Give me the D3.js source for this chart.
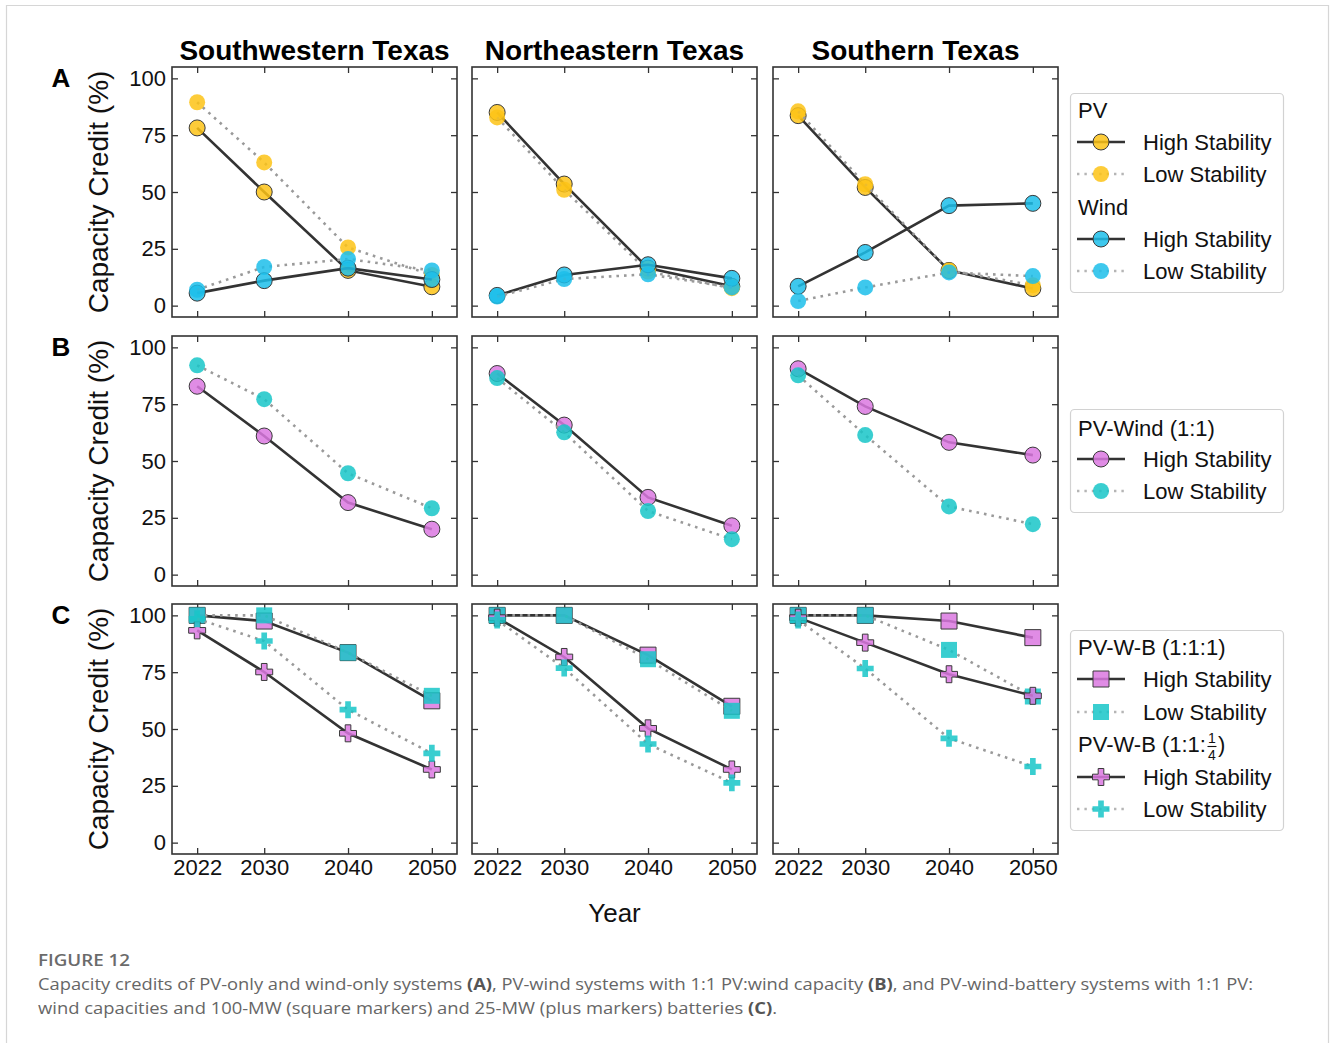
<!DOCTYPE html>
<html>
<head>
<meta charset="utf-8">
<script src="https://cdn.jsdelivr.net/npm/d3@7"></script>
<style>
  body { margin: 0; background: #fff; }
  svg { display: block; }
</style>
</head>
<body>
<svg id="fig" width="1330" height="1043"></svg>
<script>
// ---- data ----
const years = [2022, 2030, 2040, 2050];
const regions = ["Southwestern Texas", "Northeastern Texas", "Southern Texas"];
const yTicks = [0, 25, 50, 75, 100];
const rowLetters = ["A", "B", "C"];

// Row A: single-technology capacity credits (%), one array per region
const pvHigh   = [[78.2, 50.0, 15.5, 8.3], [85.0, 53.5, 16.5, 8.5], [83.6, 52.0, 15.5, 7.5]];
const pvLow    = [[89.5, 63.0, 25.6, 13.5], [82.8, 51.0, 15.0, 7.7], [85.5, 53.4, 15.5, 9.0]];
const windHigh = [[5.5, 11.0, 16.5, 11.5], [4.5, 13.5, 18.0, 12.0], [8.5, 23.4, 44.0, 45.0]];
const windLow  = [[7.0, 17.0, 20.5, 15.5], [4.0, 11.7, 13.8, 8.0], [2.0, 8.0, 14.6, 13.0]];

// Row B: PV-wind (1:1)
const pvWindHigh = [[82.9, 61.0, 31.7, 20.0], [88.5, 65.8, 34.0, 21.5], [90.6, 74.0, 58.2, 52.6]];
const pvWindLow  = [[92.1, 77.2, 44.6, 29.2], [86.5, 62.6, 28.0, 15.6], [87.7, 61.4, 30.0, 22.2]];

// Row C: PV-wind-battery, 100-MW (1:1:1) and 25-MW (1:1:1/4) batteries
const bat100High = [[100, 97.5, 83.6, 62.4], [100, 100, 82.5, 60.0], [100, 100, 97.5, 90.2]];
const bat100Low  = [[100, 100, 83.6, 64.6], [100, 100, 80.7, 58.0], [100, 100, 84.8, 64.3]];
const bat25High  = [[93.4, 75.1, 48.1, 32.2], [99.0, 81.7, 50.3, 32.2], [99.0, 88.0, 74.1, 64.6]];
const bat25Low   = [[98.5, 88.7, 58.5, 39.3], [98.0, 76.8, 43.4, 26.3], [98.0, 76.6, 45.9, 33.5]];

// ---- styling ----
const C_PV = "#FDC316", C_WIND = "#1CBEEA", C_MAG = "#DA78E0", C_TEAL = "#18C6C8";
const FONT = "'Liberation Sans', Arial, Helvetica, sans-serif";

const rows = [
  { series: [
      { data: pvHigh, color: C_PV, high: true, shape: "circle" },
      { data: pvLow, color: C_PV, high: false, shape: "circle" },
      { data: windHigh, color: C_WIND, high: true, shape: "circle" },
      { data: windLow, color: C_WIND, high: false, shape: "circle" } ] },
  { series: [
      { data: pvWindHigh, color: C_MAG, high: true, shape: "circle" },
      { data: pvWindLow, color: C_TEAL, high: false, shape: "circle" } ] },
  { series: [
      { data: bat100High, color: C_MAG, high: true, shape: "square" },
      { data: bat100Low, color: C_TEAL, high: false, shape: "square" },
      { data: bat25High, color: C_MAG, high: true, shape: "cross" },
      { data: bat25Low, color: C_TEAL, high: false, shape: "cross" } ] }
];

const svg = d3.select("#fig");
const colLeft = [172, 472, 773];
const rowTop = [67, 336, 604];
const panelW = 285, panelH = 250;

const x = d3.scaleLinear().domain([2019, 2053]).range([0, panelW]);
const y = d3.scaleLinear().domain([-5, 105]).range([panelH, 0]);

const symbolFor = {
  circle: d3.symbol().type(d3.symbolCircle).size(Math.PI * 8 * 8),
  square: d3.symbol().type(d3.symbolSquare).size(16 * 16),
  cross: d3.symbol().type(d3.symbolCross).size(160)
};

function styleLine(sel, high) {
  sel.attr("fill", "none")
     .attr("stroke", high ? "#333" : "#9a9a9a")
     .attr("stroke-width", 2.6)
     .attr("stroke-dasharray", high ? null : "2.6,5");
}
function styleMarker(sel, color, high) {
  sel.attr("fill", color)
     .attr("fill-opacity", 0.85)
     .attr("stroke", high ? "#3a3a3a" : "none")
     .attr("stroke-width", 1);
}

// outer page border
svg.append("path")
  .attr("d", "M6.5,1050 V5.5 H1328.5 V1050")
  .attr("fill", "none").attr("stroke", "#d6d6d6").attr("stroke-width", 1.2);

const line = d3.line().x((d, i) => x(years[i])).y(d => y(d));

rows.forEach((row, r) => {
  regions.forEach((region, c) => {
    const g = svg.append("g").attr("transform", `translate(${colLeft[c]},${rowTop[r]})`);

    // axes with inward ticks on all four sides
    const left = g.append("g").call(d3.axisLeft(y).tickValues(yTicks).tickSize(-6).tickPadding(6)
      .tickFormat(c === 0 ? d3.format("d") : ""));
    const right = g.append("g").attr("transform", `translate(${panelW},0)`)
      .call(d3.axisRight(y).tickValues(yTicks).tickSize(-6).tickFormat(""));
    const top = g.append("g").call(d3.axisTop(x).tickValues(years).tickSize(-6).tickFormat(""));
    const bottom = g.append("g").attr("transform", `translate(0,${panelH})`)
      .call(d3.axisBottom(x).tickValues(years).tickSize(-6).tickPadding(5)
        .tickFormat(r === 2 ? d3.format("d") : ""));
    [left, right, top, bottom].forEach(a => {
      a.select(".domain").remove();
      a.selectAll(".tick line").attr("stroke", "#333").attr("stroke-width", 1.3);
      a.selectAll(".tick text").attr("font-family", FONT).attr("font-size", 22).attr("fill", "#111");
    });

    g.append("rect").attr("width", panelW).attr("height", panelH)
      .attr("fill", "none").attr("stroke", "#333").attr("stroke-width", 1.6);

    row.series.forEach(s => {
      const vals = s.data[c];
      g.append("path").datum(vals).attr("d", line).call(styleLine, s.high);
      g.selectAll(null).data(vals).enter().append("path")
        .attr("d", symbolFor[s.shape])
        .attr("transform", (d, i) => `translate(${x(years[i])},${y(d)})`)
        .call(styleMarker, s.color, s.high);
    });

    if (r === 0) {
      svg.append("text").attr("x", colLeft[c] + panelW / 2).attr("y", 60)
        .attr("text-anchor", "middle").attr("font-family", FONT).attr("font-weight", "bold")
        .attr("font-size", 28).attr("fill", "#000").text(region);
    }
  });

  // row letter and y-axis title
  svg.append("text").attr("x", 61).attr("y", rowTop[r] + 20)
    .attr("text-anchor", "middle").attr("font-family", FONT).attr("font-weight", "bold")
    .attr("font-size", 26).attr("fill", "#000").text(rowLetters[r]);
  svg.append("text")
    .attr("transform", `translate(108,${rowTop[r] + panelH / 2}) rotate(-90)`)
    .attr("text-anchor", "middle").attr("font-family", FONT).attr("font-size", 28)
    .attr("fill", "#111").text("Capacity Credit (%)");
});

// x-axis title
svg.append("text").attr("x", colLeft[1] + panelW / 2).attr("y", 922)
  .attr("text-anchor", "middle").attr("font-family", FONT).attr("font-size", 26)
  .attr("fill", "#111").text("Year");

// ---- legends ----
const LX = 1070, LW = 213;
function legendBox(top, h) {
  svg.append("rect").attr("x", LX + 0.5).attr("y", top + 0.5).attr("width", LW).attr("height", h)
    .attr("rx", 4).attr("fill", "#fff").attr("stroke", "#d2d2d2").attr("stroke-width", 1.2);
}
function legendHeader(cy, label) {
  return svg.append("text").attr("x", 1078).attr("y", cy + 8).attr("font-family", FONT)
    .attr("font-size", 22).attr("fill", "#111").text(label);
}
function legendEntry(cy, color, high, shape, label) {
  svg.append("path").attr("d", `M1077,${cy}H1125`).call(styleLine, high)
    .attr("stroke-width", 2.4).attr("stroke-dasharray", high ? null : "2.4,5")
    .attr("stroke", high ? "#333" : "#b5b5b5");
  svg.append("path").attr("d", symbolFor[shape]).attr("transform", `translate(1101,${cy})`)
    .call(styleMarker, color, high);
  svg.append("text").attr("x", 1143).attr("y", cy + 8).attr("font-family", FONT)
    .attr("font-size", 22).attr("fill", "#111").text(label);
}

legendBox(93, 199);
legendHeader(110, "PV");
legendEntry(142, C_PV, true, "circle", "High Stability");
legendEntry(174, C_PV, false, "circle", "Low Stability");
legendHeader(207, "Wind");
legendEntry(239, C_WIND, true, "circle", "High Stability");
legendEntry(271, C_WIND, false, "circle", "Low Stability");

legendBox(409, 103);
legendHeader(428, "PV-Wind (1:1)");
legendEntry(459, C_MAG, true, "circle", "High Stability");
legendEntry(491, C_TEAL, false, "circle", "Low Stability");

legendBox(630, 200);
legendHeader(647, "PV-W-B (1:1:1)");
legendEntry(679, C_MAG, true, "square", "High Stability");
legendEntry(712, C_TEAL, false, "square", "Low Stability");
const h2 = legendHeader(744, "PV-W-B (1:1:");
const fx = 1078 + h2.node().getComputedTextLength();
svg.append("text").attr("x", fx + 6).attr("y", 743).attr("text-anchor", "middle")
  .attr("font-family", FONT).attr("font-size", 14).attr("fill", "#111").text("1");
svg.append("line").attr("x1", fx + 1.5).attr("x2", fx + 10.5).attr("y1", 746.5).attr("y2", 746.5)
  .attr("stroke", "#111").attr("stroke-width", 1.1);
svg.append("text").attr("x", fx + 6).attr("y", 760).attr("text-anchor", "middle")
  .attr("font-family", FONT).attr("font-size", 14).attr("fill", "#111").text("4");
svg.append("text").attr("x", fx + 12).attr("y", 752).attr("font-family", FONT)
  .attr("font-size", 22).attr("fill", "#111").text(")");
legendEntry(777, C_MAG, true, "cross", "High Stability");
legendEntry(809, C_TEAL, false, "cross", "Low Stability");

// ---- caption ----
const CAP_FONT = "'Open Sans', 'Noto Sans', sans-serif";
svg.append("text").attr("x", 38).attr("y", 966).attr("font-family", CAP_FONT)
  .attr("font-size", 16).attr("font-weight", 600).attr("fill", "#6b6b6b")
  .attr("textLength", 92).attr("lengthAdjust", "spacingAndGlyphs").text("FIGURE 12");

function captionLine(yPos, parts, len) {
  const t = svg.append("text").attr("x", 38).attr("y", yPos).attr("font-family", CAP_FONT)
    .attr("font-size", 16).attr("fill", "#666")
    .attr("textLength", len).attr("lengthAdjust", "spacingAndGlyphs");
  parts.forEach(p => {
    t.append("tspan").attr("font-weight", p.bold ? 700 : 400)
      .attr("fill", p.bold ? "#555" : "#666").text(p.t);
  });
}
captionLine(990, [
  { t: "Capacity credits of PV-only and wind-only systems " }, { t: "(A)", bold: true },
  { t: ", PV-wind systems with 1:1 PV:wind capacity " }, { t: "(B)", bold: true },
  { t: ", and PV-wind-battery systems with 1:1 PV:" }
], 1215);
captionLine(1014, [
  { t: "wind capacities and 100-MW (square markers) and 25-MW (plus markers) batteries " },
  { t: "(C)", bold: true }, { t: "." }
], 739);
</script>
</body>
</html>
